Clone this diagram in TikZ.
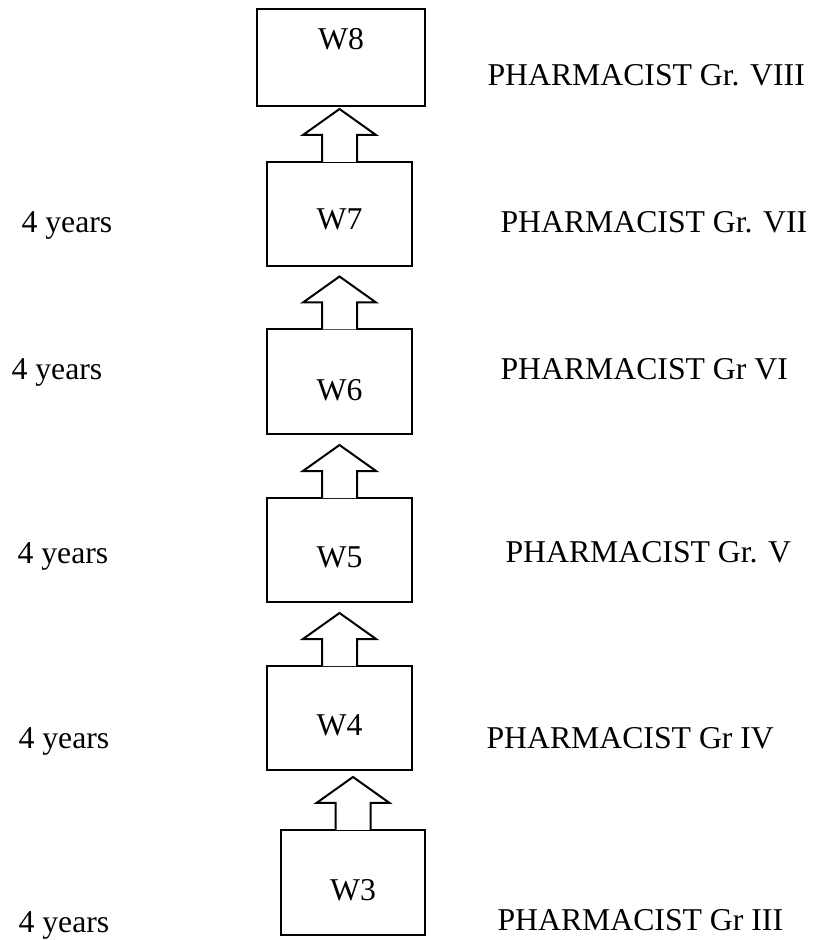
\documentclass[tikz,border=0pt]{standalone}
\usepackage{fontspec}
\setmainfont{Liberation Serif}
\usetikzlibrary{calc}

\begin{document}
\begin{tikzpicture}[x=0.375pt,y=-0.375pt,
  grade/.style={draw,line width=0.75pt,inner sep=0pt,minimum width=54.4pt,minimum height=39pt},
  txt/.style={inner sep=0pt,anchor=base west,font=\fontsize{11.9}{14}\selectfont},
  wlbl/.style={inner sep=0pt,anchor=base,font=\fontsize{11.9}{14}\selectfont},
  uparrow/.style={draw,fill=white,line width=0.75pt}]
\useasboundingbox (0,0) rectangle (814,940);
% grade boxes
\node[grade,minimum width=63pt,minimum height=36.4pt] (w8) at (341,57.5) {};
\node[grade] (w7) at (339.5,214) {};
\node[grade] (w6) at (339.5,381.5) {};
\node[grade] (w5) at (339.5,550) {};
\node[grade] (w4) at (339.5,718) {};
\node[grade,minimum width=54pt,minimum height=39.4pt] (w3) at (353,882.5) {};
\node[wlbl] (t8) at (341,50) {W8};
\node[wlbl] (t7) at (339.5,230) {W7};
\node[wlbl] (t6) at (339.5,400) {W6};
\node[wlbl] (t5) at (339.5,567) {W5};
\node[wlbl] (t4) at (339.5,735) {W4};
\node[wlbl] (t3) at (353,900) {W3};
% block arrows
\foreach \n in {w3,w4,w5,w6,w7}
{   \draw[uparrow] ($(\n.north)+(-17.5,1)$) -- ++(0,-27) -- ++(-19,0)
        -- ++(36.5,-26) -- ++(36.5,26) -- ++(-19,0) -- ++(0,27);
}
% years
\node[txt] (y7) at (21,233) {4 years};
\node[txt] (y6) at (11,380) {4 years};
\node[txt] (y5) at (17,563) {4 years};
\node[txt] (y4) at (18,748) {4 years};
\node[txt] (y3) at (18,932) {4 years};
% grades
\node[txt] (g8) at (487,86) {PHARMACIST Gr. VIII};
\node[txt] (g7) at (500,233) {PHARMACIST Gr. VII};
\node[txt] (g6) at (500,380) {PHARMACIST Gr VI};
\node[txt] (g5) at (505,562) {PHARMACIST Gr. V};
\node[txt] (g4) at (486,748) {PHARMACIST Gr IV};
\node[txt] (g3) at (497,930) {PHARMACIST Gr III};
\end{tikzpicture}
\end{document}
